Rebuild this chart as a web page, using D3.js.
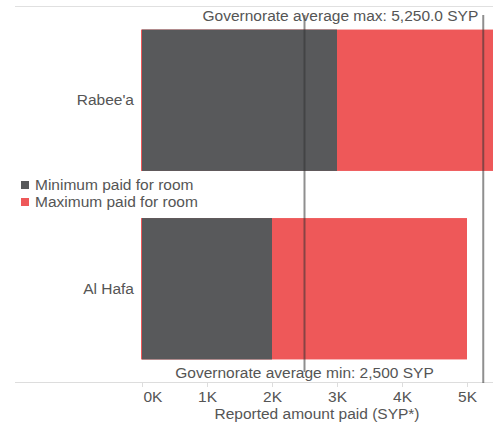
<!DOCTYPE html>
<html><head><meta charset="utf-8">
<script src="https://cdn.jsdelivr.net/npm/d3@7"></script>
<style>body{margin:0;background:#fff}text{font-family:"Liberation Sans",Arial,sans-serif}</style>
</head><body><svg id="c" width="493" height="426"></svg>
<script>
const categories = ["Rabee'a", "Al Hafa"];
const minPaid = [3000, 2000];
const maxPaid = [6000, 5000];
const tickValues = [0, 1000, 2000, 3000, 4000, 5000];
const tickLabels = ["0K", "1K", "2K", "3K", "4K", "5K"];
const govMax = 5250, govMin = 2500;
const seriesNames = ["Minimum paid for room", "Maximum paid for room"];
const colors = ["#58595b", "#ee5859"];

const svg = d3.select("#c");
const x = d3.scaleLinear().domain([0, 1000]).range([142, 207]);
const y = d3.scaleBand().domain(categories).range([6, 383]).paddingInner(0.25).paddingOuter(0.125);
const textCol = "#555";
const fs = 15.5;

svg.append("defs").append("clipPath").attr("id", "clip")
  .append("rect").attr("x", 0).attr("y", 0).attr("width", 493).attr("height", 426);

svg.append("line").attr("x1", 15).attr("x2", 493).attr("y1", 6.5).attr("y2", 6.5)
  .attr("stroke", "#e0e0e0").attr("stroke-width", 1);

const g = svg.append("g").attr("clip-path", "url(#clip)");
categories.forEach((c, i) => {
  g.append("rect").attr("x", x(0) - 1).attr("y", y(c)).attr("width", x(maxPaid[i]) - x(0) + 1)
    .attr("height", y.bandwidth()).attr("fill", colors[1]);
  g.append("rect").attr("x", x(0)).attr("y", y(c)).attr("width", x(minPaid[i]) - x(0))
    .attr("height", y.bandwidth()).attr("fill", colors[0]);
  svg.append("text").attr("x", 134).attr("y", y(c) + y.bandwidth() / 2 + 5)
    .attr("text-anchor", "end").attr("font-size", fs).attr("fill", textCol).text(c);
});

const axis = d3.axisBottom(x).tickValues(tickValues).tickFormat((d, i) => tickLabels[i]).tickSize(4).tickPadding(4);
const ax = svg.append("g").attr("transform", "translate(0,383)").call(axis);
ax.select(".domain").remove();
ax.selectAll(".tick line").attr("stroke", "#ddd");
ax.selectAll(".tick text").attr("font-size", fs).attr("fill", textCol)
  .attr("font-family", "Liberation Sans, Arial, sans-serif")
  .attr("text-anchor", d => d === 0 ? "start" : "middle").attr("dx", d => d === 0 ? 1 : 0);
svg.append("line").attr("x1", 15).attr("x2", 493).attr("y1", 382.5).attr("y2", 382.5)
  .attr("stroke", "#ddd");

svg.append("text").attr("x", 317).attr("y", 419).attr("text-anchor", "middle")
  .attr("font-size", fs).attr("fill", textCol).text("Reported amount paid (SYP*)");

svg.append("line").attr("x1", x(govMax)).attr("x2", x(govMax)).attr("y1", 15).attr("y2", 383)
  .attr("stroke", "#333").attr("stroke-opacity", 0.55).attr("stroke-width", 2);
svg.append("line").attr("x1", x(govMin)).attr("x2", x(govMin)).attr("y1", 15).attr("y2", 372)
  .attr("stroke", "#333").attr("stroke-opacity", 0.55).attr("stroke-width", 2);
svg.append("text").attr("x", x(govMax) - 5).attr("y", 21).attr("text-anchor", "end")
  .attr("font-size", fs).attr("fill", textCol).text("Governorate average max: 5,250.0 SYP");
svg.append("text").attr("x", x(govMin)).attr("y", 378).attr("text-anchor", "middle")
  .attr("font-size", fs).attr("fill", textCol).text("Governorate average min: 2,500 SYP");

seriesNames.forEach((s, i) => {
  svg.append("rect").attr("x", 21).attr("y", 181 + i * 17).attr("width", 8).attr("height", 8).attr("fill", colors[i]);
  svg.append("text").attr("x", 35).attr("y", 190 + i * 17).attr("font-size", fs).attr("fill", textCol).text(s);
});
</script></body></html>
